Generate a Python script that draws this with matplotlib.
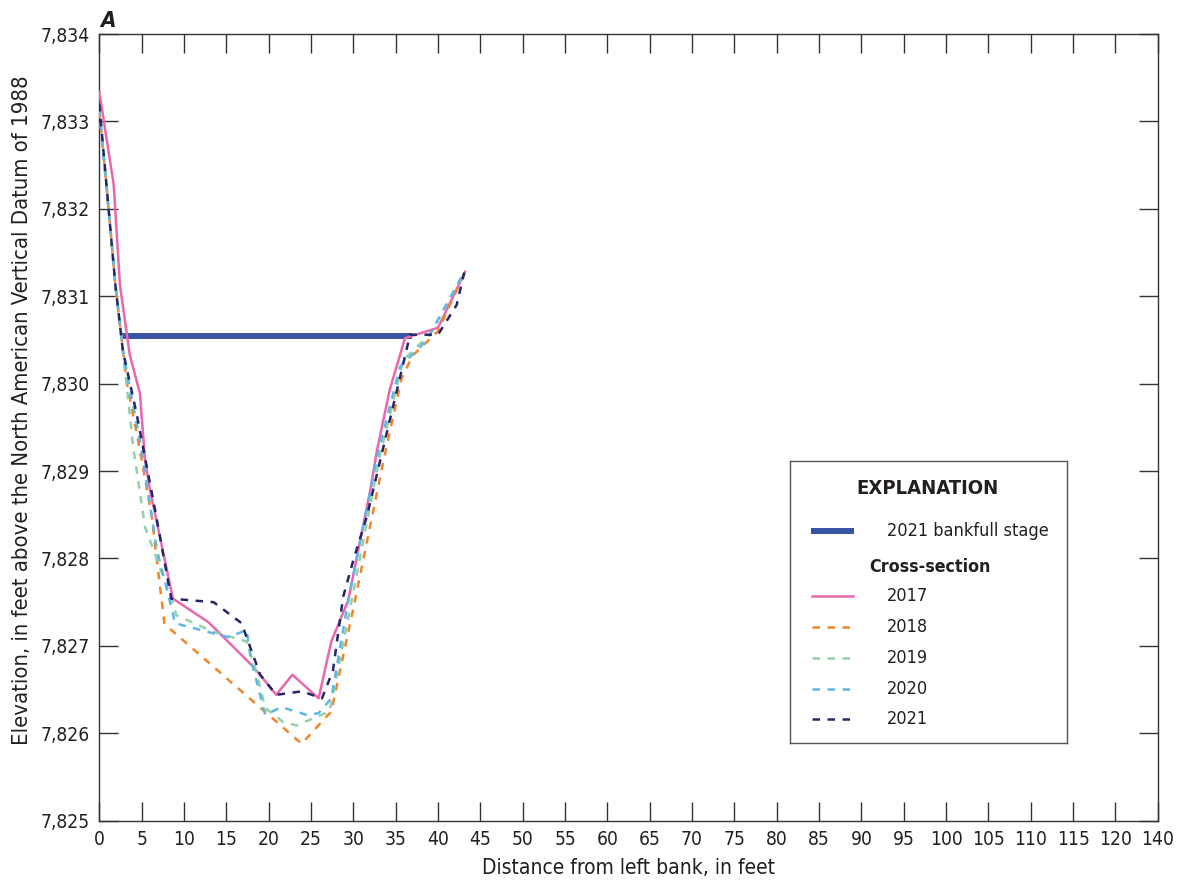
import matplotlib
matplotlib.use('Agg')
import matplotlib.pyplot as plt

plt.rcParams['font.family'] = ['DejaVu Sans']
plt.rcParams['font.stretch'] = 'condensed'

# cross-section survey points, distance from left bank (ft) and elevation (ft)
x_2017 = [0, 1.7, 2.44, 3.6, 4.8, 5.4, 6.0, 8.7, 12.9, 18.2, 20.9, 22.8, 25.9, 27.4, 29.4, 32.0, 32.8, 34.3, 36.1, 40.0, 43.2]
z_2017 = [7833.34, 7832.28, 7831.13, 7830.33, 7829.89, 7829.13, 7828.78, 7827.54, 7827.27, 7826.76, 7826.44, 7826.67,
          7826.40, 7827.05, 7827.52, 7828.78, 7829.24, 7829.93, 7830.52, 7830.64, 7831.28]

x_2018 = [0, 1.1, 1.9, 3.2, 4.8, 6.2, 6.9, 7.7, 23.9, 27.4, 30.2, 33.5, 35.7, 37.0, 40.0, 43.2]
z_2018 = [7833.12, 7832.0, 7831.13, 7830.04, 7829.24, 7828.48, 7827.9, 7827.25, 7825.88, 7826.25, 7827.52, 7829.09,
          7830.06, 7830.32, 7830.6, 7831.28]

x_2019 = [0, 1.1, 1.9, 2.8, 4.0, 5.4, 8.7, 9.1, 13.5, 17.4, 18.6, 19.6, 21.7, 23.3, 27.2, 29.8, 33.1, 35.9, 39.0, 43.0]
z_2019 = [7833.15, 7832.0, 7831.13, 7830.37, 7829.28, 7828.36, 7827.49, 7827.35, 7827.16, 7827.05, 7826.68, 7826.29,
          7826.13, 7826.09, 7826.25, 7827.52, 7829.16, 7830.27, 7830.56, 7831.26]

x_2020 = [0, 1.1, 1.9, 2.8, 5.0, 6.8, 8.7, 8.9, 15.2, 17.4, 17.9, 19.6, 21.5, 24.5, 25.9, 27.4, 29.4, 32.9, 35.5, 38.7, 43.1]
z_2020 = [7833.15, 7832.0, 7831.13, 7830.37, 7829.24, 7828.1, 7827.37, 7827.26, 7827.1, 7827.18, 7826.85, 7826.21,
          7826.3, 7826.21, 7826.23, 7826.4, 7827.52, 7829.2, 7830.19, 7830.5, 7831.27]

x_2021 = [0, 1.1, 1.9, 2.8, 4.4, 6.6, 8.5, 13.5, 16.8, 19.0, 20.9, 23.9, 26.3, 27.6, 28.8, 30.0, 31.6, 35.9, 36.7, 40.0,
          42.2, 43.1]
z_2021 = [7833.2, 7832.0, 7831.13, 7830.37, 7829.66, 7828.55, 7827.54, 7827.5, 7827.26, 7826.67, 7826.44, 7826.48,
          7826.4, 7826.72, 7827.56, 7827.98, 7828.48, 7830.23, 7830.56, 7830.56, 7830.9, 7831.27]

bankfull_x = [2.7, 36.9]
bankfull_z = [7830.55, 7830.55]

years = ['2017', '2018', '2019', '2020', '2021']
year_colors = ['#E968AD', '#F58426', '#93D0A8', '#5DB6E6', '#24286A']
bankfull_color = '#3953A4'

x_ticks = list(range(0, 130, 5))
x_tick_labels = [str(v) for v in range(0, 125, 5)] + ['140']
y_ticks = list(range(7825, 7835))
y_tick_labels = ['7,825', '7,826', '7,827', '7,828', '7,829', '7,830', '7,831', '7,832', '7,833', '7,834']

sections = [(x_2017, z_2017), (x_2018, z_2018), (x_2019, z_2019), (x_2020, z_2020), (x_2021, z_2021)]

fig = plt.figure(figsize=(11.79, 8.88), dpi=100)
ax = fig.add_axes([0.0842, 0.0758, 0.8978, 0.8859])

ax.plot(bankfull_x, bankfull_z, color=bankfull_color, lw=4.3, solid_capstyle='butt', zorder=2)
for i, (xs, zs) in enumerate(sections):
    if i == 0:
        ax.plot(xs, zs, color=year_colors[i], lw=1.8, zorder=3)
    else:
        ax.plot(xs, zs, color=year_colors[i], lw=1.8, dashes=(3, 3), zorder=3)

ax.set_xlim(0, 125)
ax.set_ylim(7825, 7834)
ax.set_xticks(x_ticks)
ax.set_xticklabels(x_tick_labels)
ax.set_yticks(y_ticks)
ax.set_yticklabels(y_tick_labels)
ax.tick_params(direction='in', length=13.5, width=1.0, color='#333333', labelsize=13.8,
               top=True, right=True, labelcolor='#231f20', pad=7)
for s in ax.spines.values():
    s.set_linewidth(1.0)
    s.set_color('#333333')

ax.set_xlabel('Distance from left bank, in feet', fontsize=15, color='#231f20', labelpad=6)
ax.set_ylabel('Elevation, in feet above the North American Vertical Datum of 1988', fontsize=15.8,
              color='#231f20')
ax.yaxis.set_label_coords(-0.064, 0.522)
ax.text(0.001, 1.004, 'A', transform=ax.transAxes, fontsize=16, fontweight='bold', style='italic',
        ha='left', va='bottom', color='#231f20')

# explanation box
lg = fig.add_axes([0.670, 0.1636, 0.2347, 0.3176])
lg.set_xlim(0, 276.7)
lg.set_ylim(282, 0)
lg.set_xticks([])
lg.set_yticks([])
for s in lg.spines.values():
    s.set_linewidth(1.0)
    s.set_color('#555555')

lg.text(138, 28, 'EXPLANATION', fontsize=14.5, fontweight='bold', ha='center', va='center', color='#231f20')
lg.plot([21, 64], [70, 70], color=bankfull_color, lw=4.3, solid_capstyle='butt')
lg.text(97, 70, '2021 bankfull stage', fontsize=13, ha='left', va='center', color='#231f20')
lg.text(79, 106, 'Cross-section', fontsize=12.8, fontweight='bold', ha='left', va='center', color='#231f20')
row_y = [135, 166, 197.5, 228, 258.5]
for i, yr in enumerate(years):
    if i == 0:
        lg.plot([22, 63], [row_y[i], row_y[i]], color=year_colors[i], lw=1.8)
    else:
        lg.plot([22, 63], [row_y[i], row_y[i]], color=year_colors[i], lw=1.8, dashes=(3, 3))
    lg.text(97, row_y[i], yr, fontsize=13, ha='left', va='center', color='#231f20')

fig.savefig('out.png', dpi=100)
